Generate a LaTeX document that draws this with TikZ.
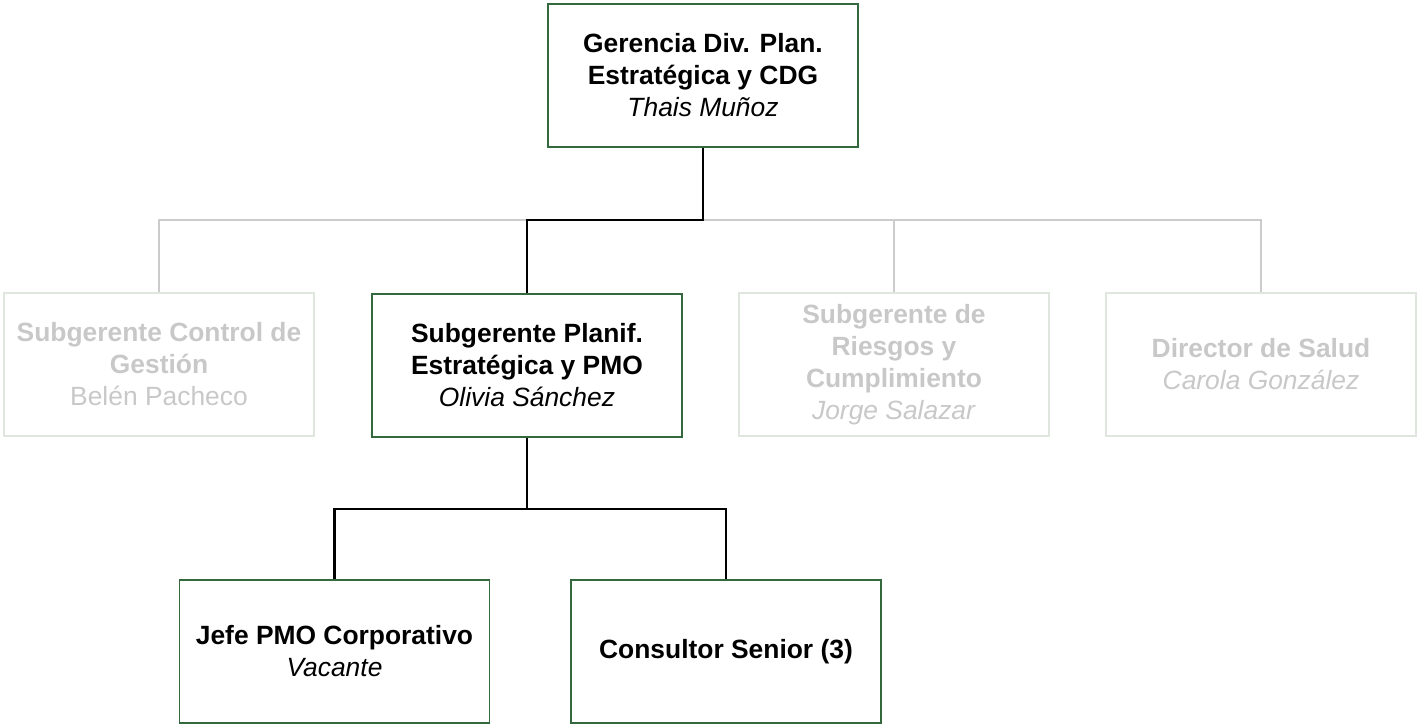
\documentclass[tikz,border=0pt]{standalone}
\usepackage{fontspec}
\setmainfont{Liberation Sans}
\definecolor{boxgreen}{RGB}{52,105,62}
\definecolor{boxpale}{RGB}{222,230,222}
\definecolor{txtpale}{RGB}{200,200,200}
\definecolor{linepale}{RGB}{204,204,204}
\tikzset{
  orgbox/.style={draw=boxgreen, line width=1.6pt, minimum width=310pt, minimum height=143pt,
    inner sep=0pt, align=center, font=\fontsize{26.4}{32}\selectfont, text=black},
  palebox/.style={orgbox, draw=boxpale, text=txtpale},
  mainline/.style={draw=black, line width=2.2pt},
  paleline/.style={draw=linepale, line width=2.2pt},
}
\begin{document}
\begin{tikzpicture}[x=1pt,y=-1pt]
\useasboundingbox (0,0) rectangle (1417,726);
\node[orgbox] (t) at (703,75.5) {\textbf{Gerencia Div. Plan.}\\\textbf{Estratégica y CDG}\\\textit{Thais Muñoz}};
\node[palebox] (b1) at (159,364.5) {\textbf{Subgerente Control de}\\\textbf{Gestión}\\Belén Pacheco};
\node[orgbox] (b2) at (527,365.5) {\textbf{Subgerente Planif.}\\\textbf{Estratégica y PMO}\\\textit{Olivia Sánchez}};
\node[palebox] (b3) at (894,364.5) {\textbf{Subgerente de}\\\textbf{Riesgos y}\\\textbf{Cumplimiento}\\\textit{Jorge Salazar}};
\node[palebox] (b4) at (1261,364.5) {\textbf{Director de Salud}\\\textit{Carola González}};
\node[orgbox] (b5) at (334.5,651.5) {\textbf{Jefe PMO Corporativo}\\\textit{Vacante}};
\node[orgbox] (b6) at (726,651.5) {\textbf{Consultor Senior (3)}};
\coordinate (j1) at (703,220);
\coordinate (j2) at (527,509);
\draw[paleline] (j1) -| (b1.north);
\draw[paleline] (j1) -| (b3.north);
\draw[paleline] (j1) -| (b4.north);
\draw[mainline] (t.south) -- (j1) -| (b2.north);
\draw[mainline] (b2.south) -- (j2) -| (b5.north);
\draw[mainline] (j2) -| (b6.north);
\end{tikzpicture}
\end{document}
